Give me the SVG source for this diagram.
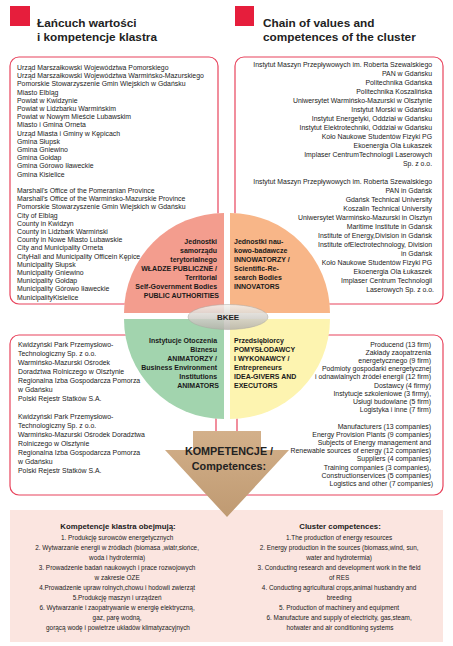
<svg xmlns="http://www.w3.org/2000/svg" width="453" height="646" viewBox="0 0 453 646">
<style>
text{font-family:"Liberation Sans",Arial,sans-serif;fill:#1a1a1a}
.b{font-size:6.9px}
.s{font-size:6.4px}
.q{font-size:7px;font-weight:bold}
.h{font-size:11.8px;font-weight:bold;fill:#222}
.r{text-anchor:end}
.c{text-anchor:middle}
.box{fill:#fff;stroke:#e8435c;stroke-width:1.2}
</style>
<defs>
<linearGradient id="gE" x1="0" y1="0" x2="0" y2="1"><stop offset="0" stop-color="#f4f2ee"/><stop offset="1" stop-color="#b5b2ab"/></linearGradient>
<linearGradient id="gA" x1="0" y1="0" x2="0" y2="1"><stop offset="0" stop-color="#d3b08a"/><stop offset="1" stop-color="#bf9a72"/></linearGradient>
</defs>
<rect width="453" height="646" fill="#fff"/>
<g id="header">
<rect x="10" y="6" width="20" height="20" fill="#e61e3c"/>
<rect x="235" y="6" width="19" height="20" fill="#e61e3c"/>
<text class="h" x="37" y="27">Łańcuch wartości</text>
<text class="h" x="37" y="41">i kompetencje klastra</text>
<text class="h" x="263" y="27">Chain of values and</text>
<text class="h" x="263" y="41">competences of the cluster</text>
</g>
<g id="box-public">
<rect class="box" x="10" y="57" width="208" height="247" rx="9"/>
<text class="b" x="17">
<tspan x="17" y="70">Urząd Marszałkowski Województwa Pomorskiego</tspan>
<tspan x="17" y="78.2">Urząd Marszałkowski Województwa Warmińsko-Mazurskiego</tspan>
<tspan x="17" y="86.4">Pomorskie Stowarzyszenie Gmin Wiejskich w Gdańsku</tspan>
<tspan x="17" y="94.6">Miasto Elbląg</tspan>
<tspan x="17" y="102.8">Powiat w Kwidzynie</tspan>
<tspan x="17" y="111">Powiat w Lidzbarku Warmińskim</tspan>
<tspan x="17" y="119.2">Powiat w Nowym Mieście Lubawskim</tspan>
<tspan x="17" y="127.4">Miasto i Gmina Orneta</tspan>
<tspan x="17" y="135.6">Urząd Miasta i Gminy w Kępicach</tspan>
<tspan x="17" y="143.8">Gmina Słupsk</tspan>
<tspan x="17" y="152">Gmina Gniewino</tspan>
<tspan x="17" y="160.2">Gmina Gołdap</tspan>
<tspan x="17" y="168.4">Gmina Górowo Iławeckie</tspan>
<tspan x="17" y="176.6">Gmina Kisielice</tspan>
<tspan x="17" y="193">Marshall's Office of the Pomeranian Province</tspan>
<tspan x="17" y="201.2">Marshall's Office of the Warmińsko-Mazurskie Province</tspan>
<tspan x="17" y="209.4">Pomorskie Stowarzyszenie Gmin Wiejskich w Gdańsku</tspan>
<tspan x="17" y="217.6">City of Elbląg</tspan>
<tspan x="17" y="225.8">County in Kwidzyn</tspan>
<tspan x="17" y="234">County in Lidzbark Warmiński</tspan>
<tspan x="17" y="242.2">County in Nowe Miasto Lubawskie</tspan>
<tspan x="17" y="250.4">City and Municipality Orneta</tspan>
<tspan x="17" y="258.6">CityHall and Municipality Officein Kępice</tspan>
<tspan x="17" y="266.8">Municipality Słupsk</tspan>
<tspan x="17" y="275">Municipality Gniewino</tspan>
<tspan x="17" y="283.2">Municipality Gołdap</tspan>
<tspan x="17" y="291.4">Municipality Górowo Iławeckie</tspan>
<tspan x="17" y="299.6">MunicipalityKisielice</tspan>
</text>
</g>
<g id="box-innovators">
<rect class="box" x="235" y="57" width="208" height="247" rx="9"/>
<text class="b r">
<tspan x="434" y="67">Instytut Maszyn Przepływowych im. Roberta Szewalskiego</tspan>
<tspan x="434" y="76">PAN w Gdańsku</tspan>
<tspan x="434" y="85">Politechnika Gdańska</tspan>
<tspan x="434" y="94">Politechnika Koszalińska</tspan>
<tspan x="434" y="103">Uniwersytet Warmińsko-Mazurski w Olsztynie</tspan>
<tspan x="434" y="112">Instytut Morski w Gdańsku</tspan>
<tspan x="434" y="121">Instytut Energetyki, Oddział w Gdańsku</tspan>
<tspan x="434" y="130">Instytut Elektrotechniki, Oddział w Gdańsku</tspan>
<tspan x="434" y="139">Koło Naukowe Studentów Fizyki PG</tspan>
<tspan x="434" y="148">Ekoenergia Ola Łukaszek</tspan>
<tspan x="434" y="157">Implaser CentrumTechnologii Laserowych</tspan>
<tspan x="434" y="166">Sp. z o.o.</tspan>
<tspan x="434" y="184">Instytut Maszyn Przepływowych im. Roberta Szewalskiego</tspan>
<tspan x="434" y="193">PAN in Gdańsk</tspan>
<tspan x="434" y="202">Gdańsk Technical University</tspan>
<tspan x="434" y="211">Koszalin Technical University</tspan>
<tspan x="434" y="220">Uniwersytet Warmińsko-Mazurski in Olsztyn</tspan>
<tspan x="434" y="229">Maritime Institute in Gdańsk</tspan>
<tspan x="434" y="238">Institute of Energy,Division in Gdańsk</tspan>
<tspan x="434" y="247">Institute ofElectrotechnology, Division</tspan>
<tspan x="434" y="256">in Gdańsk</tspan>
<tspan x="434" y="265">Koło Naukowe Studentów Fizyki PG</tspan>
<tspan x="434" y="274">Ekoenergia Ola Łukaszek</tspan>
<tspan x="434" y="283">Implaser Centrum Technologii</tspan>
<tspan x="434" y="292">Laserowych Sp. z o.o.</tspan>
</text>
</g>
<g id="box-animators">
<rect class="box" x="10" y="335" width="206" height="160" rx="9"/>
<text class="b">
<tspan x="18" y="346.5">Kwidzyński Park Przemysłowo-</tspan>
<tspan x="18" y="355.5">Technologiczny Sp. z o.o.</tspan>
<tspan x="18" y="364.5">Warmińsko-Mazurski Ośrodek</tspan>
<tspan x="18" y="373.5">Doradztwa Rolniczego w Olsztynie</tspan>
<tspan x="18" y="382.5">Regionalna Izba Gospodarcza Pomorza</tspan>
<tspan x="18" y="391.5">w Gdańsku</tspan>
<tspan x="18" y="400.5">Polski Rejestr Statków S.A.</tspan>
<tspan x="18" y="418.5">Kwidzyński Park Przemysłowo-</tspan>
<tspan x="18" y="427.5">Technologiczny Sp. z o.o.</tspan>
<tspan x="18" y="436.5">Warmińsko-Mazurski Ośrodek Doradztwa</tspan>
<tspan x="18" y="445.5">Rolniczego w Olsztynie</tspan>
<tspan x="18" y="454.5">Regionalna Izba Gospodarcza Pomorza</tspan>
<tspan x="18" y="463.5">w Gdańsku</tspan>
<tspan x="18" y="472.5">Polski Rejestr Statków S.A.</tspan>
</text>
</g>
<g id="box-executors">
<rect class="box" x="237" y="335" width="206" height="160" rx="9"/>
<text class="b r">
<tspan x="433" y="346.5">Producend  (13 firm)</tspan>
<tspan x="433" y="354.7">Zakłady zaopatrzenia</tspan>
<tspan x="433" y="362.9">energetycznego (9 firm)</tspan>
<tspan x="433" y="371.1">Podmioty gospodarki energetycznej</tspan>
<tspan x="433" y="379.3">i odnawialnych źródeł energii (12 firm)</tspan>
<tspan x="433" y="387.5">Dostawcy (4 firmy)</tspan>
<tspan x="433" y="395.7">Instytucje szkoleniowe (3 firmy),</tspan>
<tspan x="433" y="403.9">Usługi budowlane (5 firm)</tspan>
<tspan x="433" y="412.1">Logistyka i inne (7 firm)</tspan>
<tspan x="433" y="428.5">Manufacturers (13 companies)</tspan>
<tspan x="433" y="436.7">Energy Provision Plants (9 companies)</tspan>
<tspan x="433" y="444.9">Subjects of Energy management and</tspan>
<tspan x="433" y="453.1">Renewable sources of energy (12 companies)</tspan>
<tspan x="433" y="461.3">Suppliers (4 companies)</tspan>
<tspan x="433" y="469.5">Training companies (3 companies),</tspan>
<tspan x="433" y="477.7">Constructionservices (5 companies)</tspan>
<tspan x="433" y="485.9">Logistics and other (7 companies)</tspan>
</text>
</g>
<g id="competences-band">
<rect x="10" y="510" width="433" height="132" fill="#fbe5e0"/>
</g>
<g id="cluster-circle">
<circle cx="227" cy="316" r="103" fill="#fff"/>
<path id="q-public" d="M224,313 H124 A100,100 0 0 1 224,213 Z" fill="#f39d8e"/>
<path id="q-innovators" d="M230,313 V213 A100,100 0 0 1 330,313 Z" fill="#f8b688"/>
<path id="q-animators" d="M224,319 V419 A100,100 0 0 1 124,319 Z" fill="#a2d4ae"/>
<path id="q-executors" d="M230,319 H330 A100,100 0 0 1 230,419 Z" fill="#fdf4b0"/>
<text class="q r">
<tspan x="219" y="244">Jednostki</tspan>
<tspan x="219" y="253">samorządu</tspan>
<tspan x="219" y="262">terytorialnego</tspan>
<tspan x="219" y="271">WŁADZE PUBLICZNE /</tspan>
<tspan x="219" y="280">Territorial</tspan>
<tspan x="219" y="289">Self-Government Bodies</tspan>
<tspan x="219" y="298">PUBLIC AUTHORITIES</tspan>
</text>
<text class="q">
<tspan x="234" y="244">Jednostki nau-</tspan>
<tspan x="234" y="253">kowo-badawcze</tspan>
<tspan x="234" y="262">INNOWATORZY /</tspan>
<tspan x="234" y="271">Scientific-Re-</tspan>
<tspan x="234" y="280">search Bodies</tspan>
<tspan x="234" y="289">INNOVATORS</tspan>
</text>
<text class="q r">
<tspan x="219" y="342.5">Instytucje Otoczenia</tspan>
<tspan x="219" y="351.5">Biznesu</tspan>
<tspan x="219" y="360.5">ANIMATORZY /</tspan>
<tspan x="219" y="369.5">Business Environment</tspan>
<tspan x="219" y="378.5">Institutions</tspan>
<tspan x="219" y="387.5">ANIMATORS</tspan>
</text>
<text class="q">
<tspan x="234" y="342.5">Przedsiębiorcy</tspan>
<tspan x="234" y="351.5">POMYSŁODAWCY</tspan>
<tspan x="234" y="360.5">I WYKONAWCY /</tspan>
<tspan x="234" y="369.5">Entrepreneurs</tspan>
<tspan x="234" y="378.5">IDEA-GIVERS AND</tspan>
<tspan x="234" y="387.5">EXECUTORS</tspan>
</text>
</g>
<g id="bkee">
<ellipse cx="228" cy="317" rx="40" ry="12.5" fill="url(#gE)" fill-opacity="0.85" stroke="#aaa7a0" stroke-width="0.5"/>
<text class="c" x="228" y="320" style="font-size:8px;font-weight:bold;fill:#222">BKEE</text>
</g>
<g id="connectors">
<polygon points="193,431 261,431 261,450 289,450 227,517 165,450 193,450" fill="url(#gA)"/>
<text class="c" x="229" y="455" style="font-size:10.8px;font-weight:bold;fill:#222">KOMPETENCJE /</text>
<text class="c" x="229" y="469.5" style="font-size:10.8px;font-weight:bold;fill:#222">Competences:</text>
</g>
<g id="competences-pl">
<text class="c" x="118" y="528.5" style="font-size:7.8px;font-weight:bold">Kompetencje klastra obejmują:</text>
<text class="s c">
<tspan x="118" y="539.5">1. Produkcję surowców energetycznych</tspan>
<tspan x="118" y="549.5">2. Wytwarzanie energii w źródłach (biomasa ,wiatr,słońce,</tspan>
<tspan x="118" y="559.5">woda i hydrotermia)</tspan>
<tspan x="118" y="569.5">3. Prowadzenie badań naukowych i prace rozwojowych</tspan>
<tspan x="118" y="579.5">w zakresie OZE</tspan>
<tspan x="118" y="589.5">4.Prowadzenie upraw rolnych,chowu i hodowli zwierząt</tspan>
<tspan x="118" y="599.5">5.Produkcję maszyn i urządzeń</tspan>
<tspan x="118" y="609.5">6. Wytwarzanie i zaopatrywanie w energię elektryczną,</tspan>
<tspan x="118" y="619.5">gaz, parę wodną,</tspan>
<tspan x="118" y="629.5">gorącą wodę i powietrze układów klimatyzacyjnych</tspan>
</text>
</g>
<g id="competences-en">
<text class="c" x="340" y="528.5" style="font-size:7.8px;font-weight:bold">Cluster competences:</text>
<text class="s c">
<tspan x="340" y="539.5">1.The production of energy resources</tspan>
<tspan x="340" y="549.5">2. Energy production in the sources (biomass,wind, sun,</tspan>
<tspan x="340" y="559.5">water and hydrotermia)</tspan>
<tspan x="340" y="569.5">3. Conducting research and development work in the field</tspan>
<tspan x="340" y="579.5">of RES</tspan>
<tspan x="340" y="589.5">4. Conducting agricultural crops,animal husbandry and</tspan>
<tspan x="340" y="599.5">breeding</tspan>
<tspan x="340" y="609.5">5. Production of machinery and equipment</tspan>
<tspan x="340" y="619.5">6. Manufacture and supply of electricity, gas,steam,</tspan>
<tspan x="340" y="629.5">hotwater and air conditioning systems</tspan>
</text>
</g>
</svg>
